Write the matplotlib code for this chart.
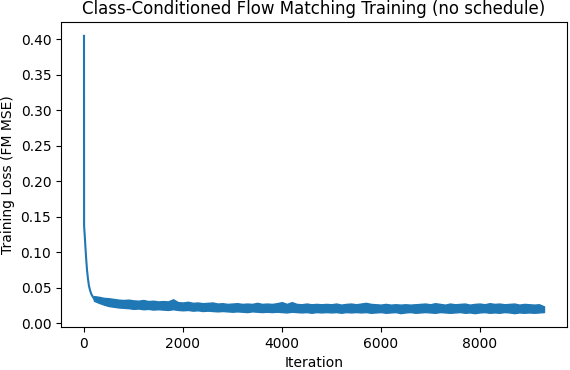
import matplotlib
matplotlib.use("Agg")
import matplotlib.pyplot as plt

# Early part of the run: single loss curve (iteration, loss)
early_iters = [0, 2, 5, 10, 20, 30, 45, 60, 80, 100, 125, 150, 175, 200]
early_loss = [0.405, 0.138, 0.134, 0.129, 0.118, 0.106, 0.090, 0.076, 0.063, 0.053,
              0.046, 0.041, 0.038, 0.035]

# Rest of the run: per-100-iteration min / max of the noisy loss
band_iters = list(range(200, 9301, 100))
band_hi = [0.0385, 0.0375, 0.0360, 0.0355, 0.0345, 0.0335, 0.0330, 0.0335, 0.0325, 0.0320,
           0.0330, 0.0315, 0.0320, 0.0310, 0.0315, 0.0310, 0.0340, 0.0300, 0.0295, 0.0305,
           0.0290, 0.0295, 0.0285, 0.0290, 0.0295, 0.0280, 0.0285, 0.0275, 0.0280, 0.0285,
           0.0275, 0.0280, 0.0275, 0.0290, 0.0275, 0.0280, 0.0275, 0.0285, 0.0300, 0.0275,
           0.0300, 0.0275, 0.0270, 0.0280, 0.0270, 0.0275, 0.0270, 0.0275, 0.0270, 0.0280,
           0.0265, 0.0275, 0.0280, 0.0270, 0.0280, 0.0290, 0.0275, 0.0270, 0.0265, 0.0275,
           0.0265, 0.0270, 0.0265, 0.0270, 0.0265, 0.0270, 0.0275, 0.0280, 0.0270, 0.0285,
           0.0275, 0.0265, 0.0280, 0.0270, 0.0275, 0.0280, 0.0265, 0.0275, 0.0280, 0.0270,
           0.0285, 0.0275, 0.0280, 0.0270, 0.0275, 0.0280, 0.0265, 0.0275, 0.0270, 0.0265,
           0.0270, 0.0240]
band_lo = [0.0320, 0.0290, 0.0265, 0.0245, 0.0235, 0.0225, 0.0220, 0.0215, 0.0205, 0.0210,
           0.0200, 0.0205, 0.0195, 0.0200, 0.0195, 0.0190, 0.0200, 0.0190, 0.0185, 0.0190,
           0.0180, 0.0185, 0.0175, 0.0180, 0.0175, 0.0170, 0.0175, 0.0170, 0.0165, 0.0170,
           0.0165, 0.0160, 0.0170, 0.0165, 0.0160, 0.0165, 0.0160, 0.0165, 0.0160, 0.0155,
           0.0165, 0.0160, 0.0155, 0.0160, 0.0150, 0.0160, 0.0155, 0.0160, 0.0155, 0.0160,
           0.0150, 0.0160, 0.0155, 0.0160, 0.0155, 0.0160, 0.0150, 0.0155, 0.0160, 0.0150,
           0.0155, 0.0160, 0.0145, 0.0155, 0.0160, 0.0150, 0.0155, 0.0160, 0.0155, 0.0150,
           0.0160, 0.0155, 0.0150, 0.0155, 0.0160, 0.0150, 0.0155, 0.0145, 0.0155, 0.0160,
           0.0150, 0.0155, 0.0150, 0.0160, 0.0155, 0.0145, 0.0155, 0.0150, 0.0155, 0.0150,
           0.0155, 0.0160]

fig, ax = plt.subplots(figsize=(5.7, 3.7), dpi=100)
fig.subplots_adjust(left=61 / 570, right=567 / 570, top=1 - 22 / 370, bottom=1 - 327 / 370)

ax.plot(early_iters, early_loss, color="C0", linewidth=1.5)
ax.fill_between(band_iters, band_lo, band_hi, color="C0", edgecolor="C0", linewidth=1.0)

ax.set_title("Class-Conditioned Flow Matching Training (no schedule)")
ax.set_xlabel("Iteration")
ax.set_ylabel("Training Loss (FM MSE)")

fig.savefig("out.png", dpi=100)
